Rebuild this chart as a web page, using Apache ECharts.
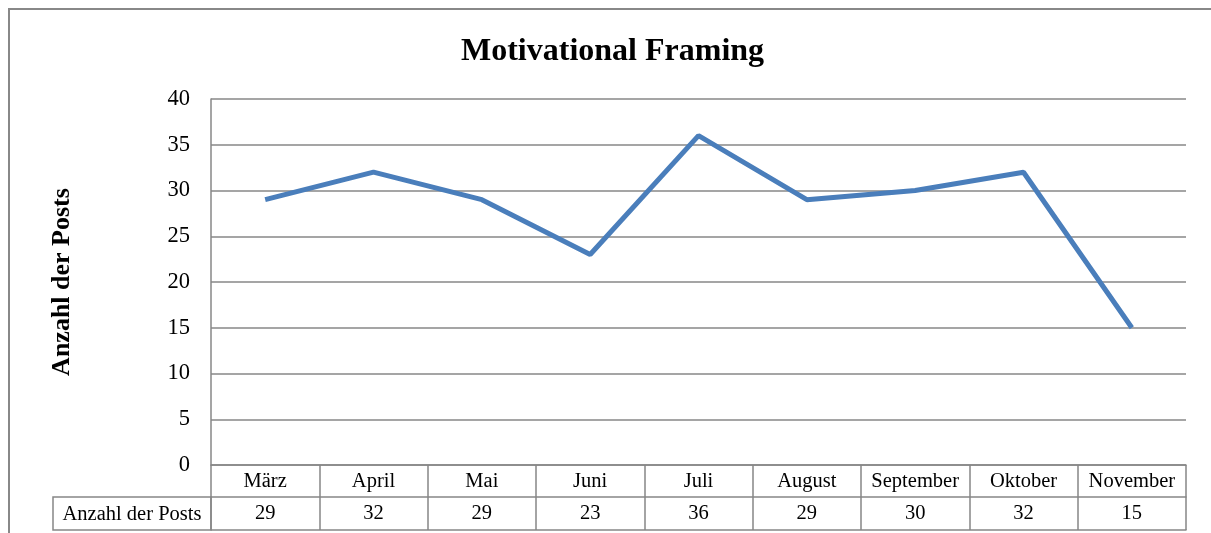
<!DOCTYPE html>
<html><head><meta charset="utf-8">
<script src="https://cdn.jsdelivr.net/npm/echarts@6/dist/echarts.min.js"></script>
<style>html,body{margin:0;padding:0;background:#fff}#c{width:1211px;height:533px}</style>
</head><body><div id="c"></div>
<script>
const categories = ['März','April','Mai','Juni','Juli','August','September','Oktober','November'];
const values = [29, 32, 29, 23, 36, 29, 30, 32, 15];
const seriesName = 'Anzahl der Posts';
const yTicks = {min: 0, max: 40, interval: 5};
const titleText = 'Motivational Framing';

const serif = '"Liberation Serif", "DejaVu Serif", serif';
const gray = '#878787';
const chart = echarts.init(document.getElementById('c'));
chart.setOption({
  animation: false,
  title: {text: titleText, left: 456, top: 31,
    textStyle: {fontFamily: serif, fontSize: 32, fontWeight: 'bold', color: '#000'}},
  grid: {left: 211, right: 25, top: 99, bottom: 68},
  xAxis: [
    {type: 'category', data: categories, position: 'bottom', boundaryGap: true,
     axisLine: {show: true, lineStyle: {color: gray, width: 1.5}},
     axisTick: {show: true, interval: 0, length: 65, lineStyle: {color: gray, width: 1.5}},
     axisLabel: {interval: 0, margin: 6, fontFamily: serif, fontSize: 20.5, color: '#000'}},
    {type: 'category', data: categories, position: 'bottom', offset: 32, boundaryGap: true,
     axisLine: {show: true, lineStyle: {color: gray, width: 1.5}},
     axisTick: {show: false},
     axisLabel: {interval: 0, margin: 6, fontFamily: serif, fontSize: 20.5, color: '#000',
       formatter: (v, i) => String(values[i])}},
    {type: 'category', data: categories, position: 'bottom', offset: 65, boundaryGap: true,
     axisLine: {show: true, lineStyle: {color: gray, width: 1.5}},
     axisTick: {show: false}, axisLabel: {show: false}}
  ],
  yAxis: {type: 'value', min: yTicks.min, max: yTicks.max, interval: yTicks.interval,
    name: seriesName, nameLocation: 'middle', nameGap: 136, nameRotate: 90,
    nameTextStyle: {fontFamily: serif, fontSize: 26, fontWeight: 'bold', color: '#000'},
    axisLine: {show: true, lineStyle: {color: gray, width: 1.5}},
    axisTick: {show: false},
    axisLabel: {margin: 21, fontFamily: serif, fontSize: 22.5, color: '#000', lineHeight: 28, verticalAlign: 'middle', padding: [5, 0, 0, 0]},
    splitLine: {show: true, lineStyle: {color: gray, width: 1.5}}},
  series: [{type: 'line', name: seriesName, data: values, xAxisIndex: 0,
    symbol: 'none', lineStyle: {color: '#4A7EBB', width: 5}}],
  graphic: [
    {type: 'rect', shape: {x: 9, y: 9, width: 1210, height: 540},
     style: {fill: 'none', stroke: '#888', lineWidth: 2}},
    {type: 'rect', shape: {x: 53, y: 497, width: 158, height: 33},
     style: {fill: 'none', stroke: gray, lineWidth: 1.5}},
    {type: 'text', x: 132, y: 515,
     style: {text: seriesName, fontFamily: serif, fontSize: 20.5, fill: '#000', align: 'center', verticalAlign: 'middle'}}
  ]
});
</script></body></html>
